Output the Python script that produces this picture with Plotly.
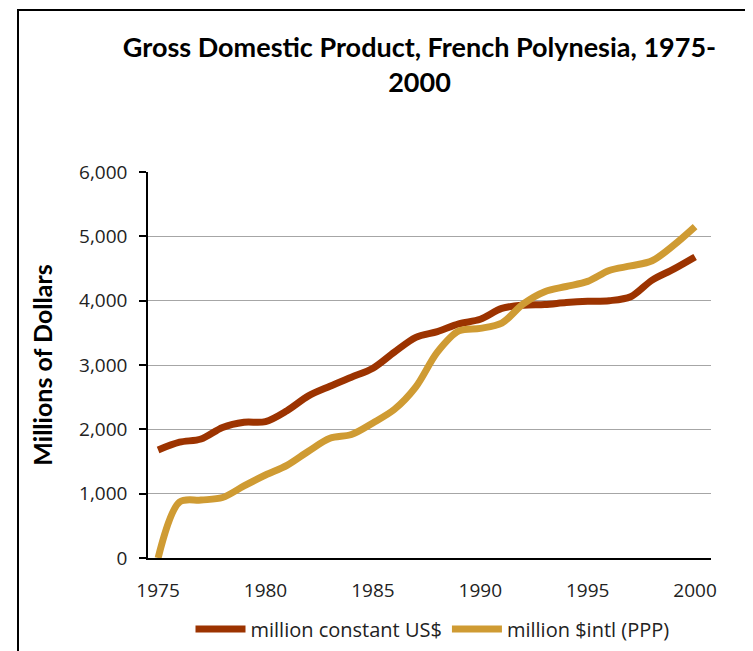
import plotly.graph_objects as go

years = list(range(1975, 2001))
constant_usd = [1680, 1800, 1850, 2030, 2110, 2120, 2290, 2520, 2670, 2810,
                2950, 3200, 3430, 3520, 3640, 3710, 3880, 3930, 3940, 3970,
                3990, 4000, 4060, 4320, 4490, 4680]
intl_ppp = [0, 870, 900, 940, 1120, 1290, 1440, 1660, 1860, 1920,
            2100, 2310, 2660, 3200, 3530, 3570, 3650, 3950, 4140, 4220,
            4300, 4470, 4540, 4620, 4860, 5150]
series_names = ["million constant US$", "million $intl (PPP)"]
title_text = "Gross Domestic Product, French Polynesia, 1975-<br>2000"
y_title = "Millions of Dollars"

RED = "#9C3300"
GOLD = "#CF9B33"
TXT = "#222222"

W, H = 745, 643
L, R, T, B = 140, 42, 164, 93
PW, PH = W - L - R, H - T - B


def px_x(x):
    return (x - L) / PW


def px_y(y):
    return 1 + (T - y) / PH


fig = go.Figure()
fig.add_trace(go.Scatter(x=years, y=constant_usd, name=series_names[0], mode="lines",
                         line=dict(color=RED, width=7, shape="spline", smoothing=0.9)))
fig.add_trace(go.Scatter(x=years, y=intl_ppp, name=series_names[1], mode="lines",
                         line=dict(color=GOLD, width=7, shape="spline", smoothing=0.9)))

fig.update_layout(
    width=W, height=H,
    paper_bgcolor="white", plot_bgcolor="white",
    margin=dict(l=L, r=R, t=T, b=B, autoexpand=False),
    font=dict(family="Open Sans", size=19, color=TXT),
    title=dict(text=title_text, x=411.5 / W, xanchor="center",
               y=1 - 49 / H, yanchor="top", yref="container",
               font=dict(family="Lato", size=27, color="black", weight="bold")),
    showlegend=True,
    legend=dict(orientation="h", x=px_x(424.5), xanchor="center", y=-0.184, yanchor="middle",
                font=dict(family="Open Sans", size=20, color=TXT),
                itemwidth=50, tracegroupgap=0, bgcolor="rgba(0,0,0,0)"),
    xaxis=dict(range=[1974.53, 2000.74], tickmode="linear", tick0=1975, dtick=5,
               showgrid=False, zeroline=False, showline=True, linecolor="black",
               linewidth=1.5, ticks="", ticklabelstandoff=14, automargin=False,
               tickfont=dict(family="Open Sans", size=19, color=TXT)),
    yaxis=dict(range=[0, 6000], tickmode="linear", tick0=0, dtick=1000, tickformat=",",
               showgrid=True, gridcolor="#A6A6A6", gridwidth=1, zeroline=False,
               showline=True, linecolor="black", linewidth=1.5, automargin=False,
               ticks="outside", ticklen=7, tickcolor="black", tickwidth=1.5,
               ticklabelstandoff=8,
               tickfont=dict(family="Open Sans", size=19, color=TXT),
               title=dict(text=y_title, standoff=19,
                          font=dict(family="Lato", size=25, color="black", weight="bold"))),
    shapes=[dict(type="rect", xref="paper", yref="paper",
                 x0=px_x(10), x1=px_x(770),
                 y0=px_y(670), y1=px_y(2),
                 line=dict(color="black", width=2), fillcolor="rgba(0,0,0,0)", layer="below")],
)

fig.write_html("out.html")
